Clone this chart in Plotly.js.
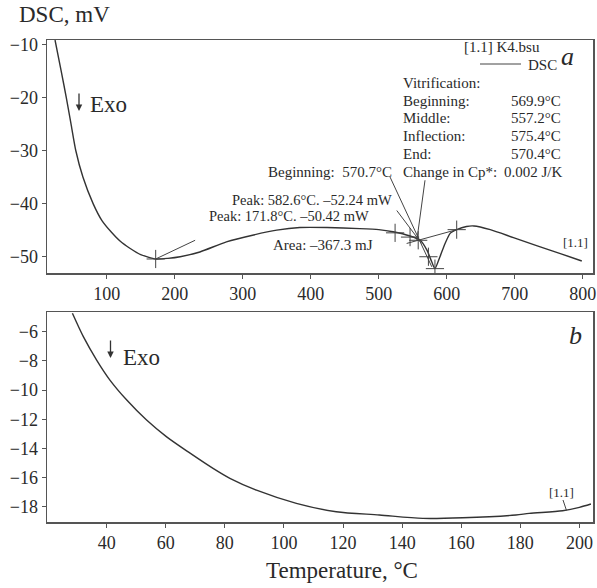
<!DOCTYPE html>
<html><head><meta charset="utf-8">
<script src="https://cdn.plot.ly/plotly-3.0.1.min.js"></script>
<style>html,body{margin:0;padding:0;background:#fff}#chart{width:597px;height:588px}</style>
</head><body><div id="chart"></div>
<script>
// Panel a: DSC over full range
const tempA = [24, 33, 40.5, 47.5, 54.5, 65, 80, 93, 107, 120, 134, 150, 172, 190, 208, 237, 276, 316, 350, 384, 424, 472, 500, 521, 546, 561, 571, 578, 582.6, 590, 597.5, 605, 614.6, 629, 640, 664, 698, 732, 767, 798.5];
const dscA  = [-9.2, -15, -20, -25, -30, -35, -40, -43.2, -45.4, -47.1, -48.4, -49.6, -50.42, -50.3, -50.0, -49.1, -47.2, -45.9, -45.0, -44.5, -44.5, -44.7, -44.9, -45.3, -46.1, -46.9, -48.8, -51.0, -52.24, -50.0, -47.5, -45.6, -44.9, -44.3, -44.2, -44.9, -46.4, -47.9, -49.4, -50.8];
// analysis markers (+)
const markT = [172, 524, 546, 558, 573, 582.6, 614.6];
const markY = [-50.42, -45.5, -46.3, -46.9, -50.0, -52.24, -44.9];
// Panel b: low temperature range
const tempB = [28.4, 32.1, 36.6, 41.1, 46.8, 53.5, 60.3, 68.1, 76, 81.7, 90.7, 104.2, 117.7, 132.3, 147, 160.5, 178.5, 183, 194.3, 200, 203.9];
const dscB  = [-4.74, -6.34, -7.94, -9.31, -10.68, -12.05, -13.2, -14.3, -15.36, -16.04, -16.85, -17.75, -18.33, -18.55, -18.78, -18.74, -18.55, -18.44, -18.26, -18.03, -17.8];
const ticksA_x = [100, 200, 300, 400, 500, 600, 700, 800];
const ticksA_y = [-10, -20, -30, -40, -50];
const ticksB_x = [40, 60, 80, 100, 120, 140, 160, 180, 200];
const ticksB_y = [-6, -8, -10, -12, -14, -16, -18];
const vitLabels = ["Beginning:", "Middle:", "Inflection:", "End:", "Change in Cp*:"];
const vitValues = ["569.9°C", "557.2°C", "575.4°C", "570.4°C", "0.002 J/K"];

const W = 597, H = 588, L = 47, R = 4, T = 40, B = 66;
const pw = W - L - R, ph = H - T - B;
const px = x => (x - L) / pw;
const py = y => (H - B - y) / ph;
const FONT = "Liberation Serif, Times New Roman, serif";
const INK = "#2a2a2a";
const LINE = "#555";

const traces = [
  {x: tempA, y: dscA, mode: "lines", line: {color: "#333", width: 1.4, shape: "spline", smoothing: 0.6}, xaxis: "x", yaxis: "y", hoverinfo: "skip"},
  {x: markT, y: markY, mode: "markers", marker: {symbol: "cross-thin", size: 13, line: {color: "#444", width: 1}}, xaxis: "x", yaxis: "y", hoverinfo: "skip"},
  {x: tempB, y: dscB, mode: "lines", line: {color: "#333", width: 1.4, shape: "spline", smoothing: 0.8}, xaxis: "x2", yaxis: "y2", hoverinfo: "skip"}
];

const axCommon = {showgrid: false, zeroline: false, showline: true, linecolor: LINE, linewidth: 1.5, mirror: true,
  ticks: "outside", ticklen: 4, tickwidth: 1, tickcolor: LINE, tickfont: {family: FONT, size: 18, color: INK}};

const ann = [];
function txt(text, x, y, size, opts) {
  ann.push(Object.assign({text: text, xref: "paper", yref: "paper", x: px(x), y: py(y), showarrow: false,
    xanchor: "left", yanchor: "middle", font: {family: FONT, size: size, color: INK}}, opts || {}));
}
txt("DSC, mV", 64, 15, 23, {xanchor: "center"});
txt("Temperature, °C", 342, 570, 23, {xanchor: "center"});
txt("Exo", 88, 105, 23);
txt("Exo", 121, 357, 23);
txt("<i>a</i>", 567, 56, 26, {xanchor: "center"});
txt("<i>b</i>", 575, 335, 26, {xanchor: "center"});
txt("[1.1] K4.bsu", 501.5, 47, 15, {xanchor: "center"});
txt("DSC", 526, 65, 15);
txt("Vitrification:", 401, 83, 15);
const rowY = [101, 118.5, 136.5, 154, 171.5];
vitLabels.forEach((s, i) => txt(s, 401, rowY[i], 15));
vitValues.forEach((s, i) => txt(s, i === 4 ? 502 : 509, rowY[i], 15));
txt("Beginning:  570.7°C", 394, 171.5, 15, {xanchor: "right"});
txt("Peak: 582.6°C. –52.24 mW", 394, 200, 14.5, {xanchor: "right"});
txt("Peak: 171.8°C. –50.42 mW", 371, 215.5, 14.5, {xanchor: "right"});
txt("Area: –367.3 mJ", 271, 245, 15);
txt("[1.1]", 575, 242.5, 13, {xanchor: "center"});
txt("[1.1]", 561.5, 492.5, 13, {xanchor: "center"});
// Exo arrows
ann.push({text: "", xref: "paper", yref: "paper", x: px(79), y: py(111), ax: 0, ay: -19, showarrow: true, arrowhead: 2, arrowsize: 1, arrowwidth: 1.3, arrowcolor: "#333"});
ann.push({text: "", xref: "paper", yref: "paper", x: px(110.5), y: py(358), ax: 0, ay: -19, showarrow: true, arrowhead: 2, arrowsize: 1, arrowwidth: 1.3, arrowcolor: "#333"});

function seg(x0, y0, x1, y1, xref, yref) {
  return {type: "line", xref: xref, yref: yref, x0: x0, y0: y0, x1: x1, y1: y1, line: {color: "#444", width: 1}};
}
const shapes = [
  seg(px(480), py(64), px(521), py(64), "paper", "paper"),
  seg(172, -50.42, 230, -46.9, "x", "y"),
  seg(516.6, -35.0, 578, -51.9, "x", "y"),
  seg(526.5, -41.3, 563, -47.5, "x", "y"),
  seg(568, -35.6, 556, -46.9, "x", "y"),
  seg(541, -47.5, 614.7, -44.9, "x", "y"),
  seg(px(563), py(500), px(566.5), py(510.5), "paper", "paper")
];

const layout = {
  width: W, height: H, margin: {l: L, r: R, t: T, b: B},
  paper_bgcolor: "#fff", plot_bgcolor: "#fff", showlegend: false,
  font: {family: FONT, color: INK},
  xaxis: Object.assign({}, axCommon, {domain: [0, 1], anchor: "y", range: [12.2, 815], tickvals: ticksA_x}),
  yaxis: Object.assign({}, axCommon, {domain: [py(273), 1], anchor: "x", range: [-53.06, -9.2], tickvals: ticksA_y}),
  xaxis2: Object.assign({}, axCommon, {domain: [0, 1], anchor: "y2", range: [19.8, 204.6], tickvals: ticksB_x}),
  yaxis2: Object.assign({}, axCommon, {domain: [0, py(312)], anchor: "x2", range: [-19.03, -4.65], tickvals: ticksB_y}),
  annotations: ann, shapes: shapes
};
Plotly.newPlot("chart", traces, layout, {staticPlot: true, displayModeBar: false});
</script></body></html>
